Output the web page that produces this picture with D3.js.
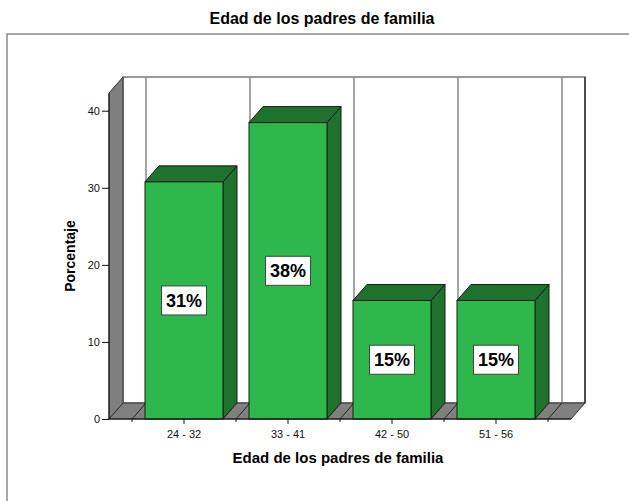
<!DOCTYPE html>
<html><head><meta charset="utf-8">
<script src="https://cdn.jsdelivr.net/npm/d3@7"></script>
<style>body{margin:0;background:#fff}svg{display:block}text{font-family:"Liberation Sans",Arial,sans-serif}</style>
</head><body><div id="chart"></div>
<script>
const categories = ["24 - 32", "33 - 41", "42 - 50", "51 - 56"];
const values = [30.77, 38.46, 15.38, 15.38];
const labels = ["31%", "38%", "15%", "15%"];
const yTicks = [0, 10, 20, 30, 40];
const title = "Edad de los padres de familia";
const xTitle = "Edad de los padres de familia";
const yTitle = "Porcentaje";

const W = 629, H = 501;
const svg = d3.select("#chart").append("svg").attr("width", W).attr("height", H);

const left = 109, right = 571, base = 419, topY = 93;
const dx = 14, dy = 16;
const x = d3.scaleBand().domain(categories).range([132, 548]).paddingInner(0.25).paddingOuter(0.125);
const y = d3.scaleLinear().domain([0, 42.3]).range([base, topY]);

// outer frame
svg.append("rect").attr("x", 7).attr("y", 34).attr("width", 700).attr("height", 600)
  .attr("fill", "none").attr("stroke", "#8a8a8a").attr("stroke-width", 1.5);

svg.append("text").attr("x", 322).attr("y", 24).attr("text-anchor", "middle")
  .attr("font-weight", "bold").attr("font-size", 16).text(title);

// back wall
svg.append("rect").attr("x", left + dx).attr("y", topY - dy).attr("width", right - left).attr("height", base - topY)
  .attr("fill", "#fff").attr("stroke", "#7a7a7a").attr("stroke-width", 1.5);
svg.append("line").attr("x1", right + dx).attr("x2", right + dx).attr("y1", topY - dy).attr("y2", base - dy)
  .attr("stroke", "#333").attr("stroke-width", 1.5);
// back wall vertical grid lines at band boundaries
const bounds = categories.map(c => x(c) - x.step() * x.paddingInner() / 2);
bounds.push(x(categories[categories.length - 1]) + x.bandwidth() + x.step() * x.paddingInner() / 2);
svg.selectAll(".vg").data(bounds).enter().append("line")
  .attr("x1", d => d + dx).attr("x2", d => d + dx).attr("y1", topY - dy).attr("y2", base - dy)
  .attr("stroke", "#888").attr("stroke-width", 1.5);

// left wall
svg.append("path").attr("d", `M${left},${base}L${left},${topY}L${left + dx},${topY - dy}L${left + dx},${base - dy}Z`)
  .attr("fill", "#7f7f7f").attr("stroke", "#333").attr("stroke-width", 1);
// floor
svg.append("path").attr("d", `M${left},${base}L${right},${base}L${right + dx},${base - dy}L${left + dx},${base - dy}Z`)
  .attr("fill", "#808080").attr("stroke", "#333").attr("stroke-width", 1);
svg.selectAll(".fd").data(bounds).enter().append("line")
  .attr("x1", d => d).attr("x2", d => d + dx).attr("y1", base).attr("y2", base - dy)
  .attr("stroke", "#222").attr("stroke-width", 1);

// bars
const front = "#2eb84b", dark = "#1f712e", edge = "#1a1a1a";
const g = svg.selectAll(".bar").data(values).enter().append("g");
g.append("path").attr("d", (d, i) => {
  const x0 = x(categories[i]) + x.bandwidth(), yt = y(d);
  return `M${x0},${base}L${x0},${yt}L${x0 + dx},${yt - dy}L${x0 + dx},${base - dy}Z`;
}).attr("fill", dark).attr("stroke", edge).attr("stroke-width", 1);
g.append("path").attr("d", (d, i) => {
  const x0 = x(categories[i]), x1 = x0 + x.bandwidth(), yt = y(d);
  return `M${x0},${yt}L${x0 + dx},${yt - dy}L${x1 + dx},${yt - dy}L${x1},${yt}Z`;
}).attr("fill", dark).attr("stroke", edge).attr("stroke-width", 1);
g.append("rect").attr("x", (d, i) => x(categories[i])).attr("y", d => y(d))
  .attr("width", x.bandwidth()).attr("height", d => base - y(d))
  .attr("fill", front).attr("stroke", edge).attr("stroke-width", 1);

// value labels
const lab = svg.selectAll(".lab").data(values).enter().append("g")
  .attr("transform", (d, i) => `translate(${x(categories[i]) + x.bandwidth() / 2},${y(d / 2)})`);
lab.append("rect").attr("x", -22.5).attr("y", -14.5).attr("width", 45).attr("height", 29)
  .attr("fill", "#fff").attr("stroke", "#444").attr("stroke-width", 1);
lab.append("text").attr("text-anchor", "middle").attr("dy", "0.36em")
  .attr("font-weight", "bold").attr("font-size", 18).text((d, i) => labels[i]);

// axes
svg.append("line").attr("x1", left).attr("x2", right).attr("y1", base).attr("y2", base).attr("stroke", "#111").attr("stroke-width", 1.2);
svg.append("line").attr("x1", left).attr("x2", left).attr("y1", base).attr("y2", topY).attr("stroke", "#111").attr("stroke-width", 1);
const ya = svg.append("g").attr("transform", `translate(${left},0)`)
  .call(d3.axisLeft(y).tickValues(yTicks).tickSize(7).tickPadding(2).tickFormat(d3.format("d")));
ya.select(".domain").remove();
ya.selectAll("text").attr("font-size", 11).attr("font-family", "Liberation Sans, Arial").attr("fill", "#111");
ya.selectAll("line").attr("stroke", "#111");

const xa = svg.append("g").attr("transform", `translate(0,${base})`)
  .call(d3.axisBottom(x).tickSize(5).tickPadding(6));
xa.select(".domain").remove();
xa.selectAll("text").attr("font-size", 11).attr("font-family", "Liberation Sans, Arial").attr("fill", "#111");
xa.selectAll("line").attr("stroke", "#111");
svg.selectAll(".mt").data(bounds).enter().append("line")
  .attr("x1", d => d).attr("x2", d => d).attr("y1", base).attr("y2", base + 3).attr("stroke", "#111");

svg.append("text").attr("x", 338).attr("y", 463).attr("text-anchor", "middle")
  .attr("font-weight", "bold").attr("font-size", 15).text(xTitle);
svg.append("text").attr("transform", "translate(75,256) rotate(-90)").attr("text-anchor", "middle")
  .attr("font-weight", "bold").attr("font-size", 14).text(yTitle);
</script></body></html>
